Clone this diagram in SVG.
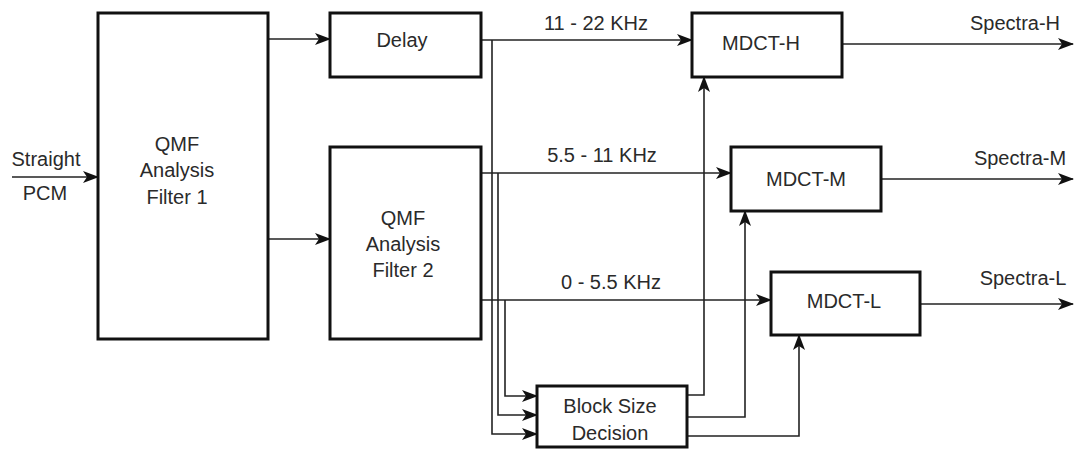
<svg xmlns="http://www.w3.org/2000/svg" width="1077" height="450" viewBox="0 0 1077 450">
<style>
.box{fill:#fff;stroke:#111;stroke-width:3}
.ln{fill:none;stroke:#222;stroke-width:1.6}
text{font-family:"Liberation Sans",Arial,sans-serif;font-size:20px;fill:#2a2a2a;text-anchor:middle}
</style>
<defs>
<marker id="ah" markerUnits="userSpaceOnUse" markerWidth="16" markerHeight="12" refX="15" refY="6" orient="auto">
<path d="M0,0 L16,6 L0,12 L4,6 z" fill="#111"/>
</marker>
</defs>
<rect width="1077" height="450" fill="#fff"/>
<g id="connectors">
<path class="ln" d="M12,177 H98" marker-end="url(#ah)"/>
<path class="ln" d="M268,39 H330" marker-end="url(#ah)"/>
<path class="ln" d="M268,239 H330" marker-end="url(#ah)"/>
<path class="ln" d="M481,40 H692" marker-end="url(#ah)"/>
<path class="ln" d="M492,40 V434 H537" marker-end="url(#ah)"/>
<path class="ln" d="M481,173 H731" marker-end="url(#ah)"/>
<path class="ln" d="M498,173 V415 H537" marker-end="url(#ah)"/>
<path class="ln" d="M481,300 H771" marker-end="url(#ah)"/>
<path class="ln" d="M505,300 V396 H537" marker-end="url(#ah)"/>
<path class="ln" d="M687,395 H704 V77" marker-end="url(#ah)"/>
<path class="ln" d="M687,417 H745 V211" marker-end="url(#ah)"/>
<path class="ln" d="M687,436 H799 V335" marker-end="url(#ah)"/>
<path class="ln" d="M842,44 H1073" marker-end="url(#ah)"/>
<path class="ln" d="M881,179 H1073" marker-end="url(#ah)"/>
<path class="ln" d="M920,304 H1073" marker-end="url(#ah)"/>
<text x="596" y="30">11 - 22 KHz</text>
<text x="602" y="162">5.5 - 11 KHz</text>
<text x="611" y="289">0 - 5.5 KHz</text>
<text x="46" y="166">Straight</text>
<text x="45" y="200">PCM</text>
<text x="1015" y="30">Spectra-H</text>
<text x="1020" y="165">Spectra-M</text>
<text x="1023" y="285">Spectra-L</text>
</g>
<g id="qmf1">
<rect class="box" x="98" y="13" width="170" height="326"/>
<text x="177" y="151">QMF</text>
<text x="177" y="177">Analysis</text>
<text x="177" y="204">Filter 1</text>
</g>
<g id="delay">
<rect class="box" x="330" y="13" width="151" height="64"/>
<text x="402" y="47">Delay</text>
</g>
<g id="qmf2">
<rect class="box" x="330" y="147" width="151" height="192"/>
<text x="403" y="225">QMF</text>
<text x="403" y="251">Analysis</text>
<text x="403" y="277">Filter 2</text>
</g>
<g id="mdct-h">
<rect class="box" x="692" y="13" width="150" height="64"/>
<text x="761" y="50">MDCT-H</text>
</g>
<g id="mdct-m">
<rect class="box" x="731" y="147" width="150" height="64"/>
<text x="806" y="186">MDCT-M</text>
</g>
<g id="mdct-l">
<rect class="box" x="771" y="272" width="149" height="63"/>
<text x="844" y="308">MDCT-L</text>
</g>
<g id="block-size-decision">
<rect class="box" x="537" y="386" width="150" height="61"/>
<text x="610" y="413">Block Size</text>
<text x="610" y="440">Decision</text>
</g>
</svg>
